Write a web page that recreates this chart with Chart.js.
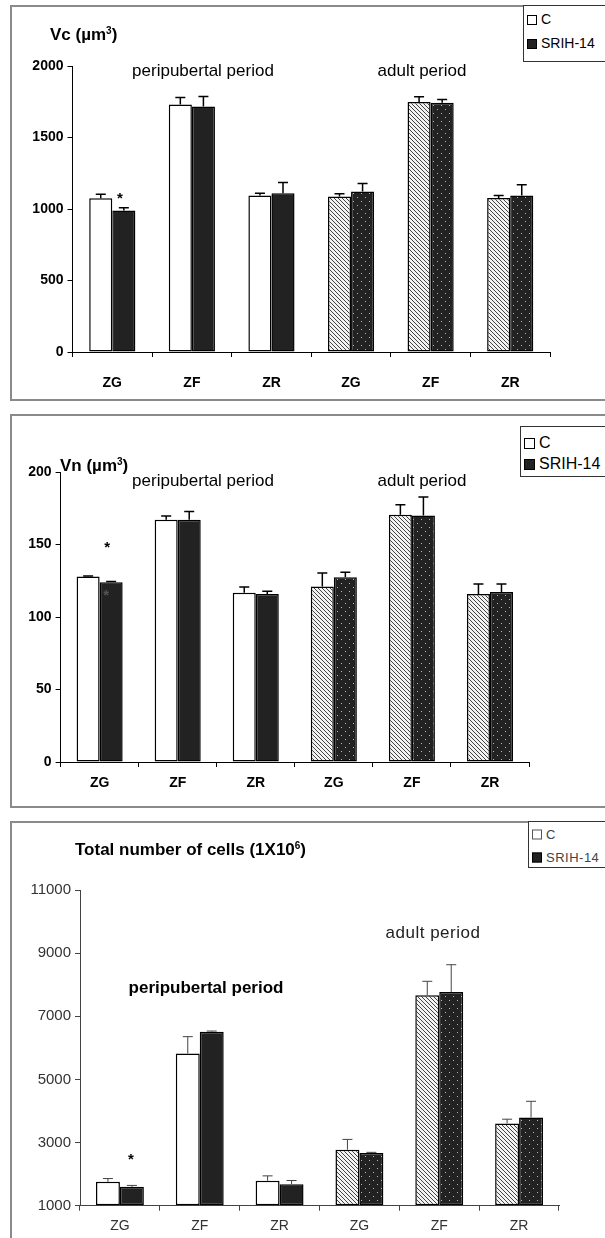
<!DOCTYPE html>
<html lang="en">
<head>
  <meta charset="UTF-8">
  <script src="https://cdn.jsdelivr.net/npm/chart.js"></script>
  <title>Adrenal cortex morphometry</title>
  <style>
    body {
      margin: 0;
      width: 605px;
      height: 1238px;
      position: relative;
      overflow: hidden;
      background: #fff;
      font-family: 'Liberation Sans', Arial, sans-serif;
      color: #000;
    }
    .panel {
      position: absolute;
      left: 10px;
      width: 640px;
      border: 2px solid #8a8a8a;
      box-sizing: border-box;
    }
    canvas {
      position: absolute;
      left: 0;
    }
    .txt {
      position: absolute;
      white-space: nowrap;
      transform: translateY(-50%);
    }
    .mid {
      transform: translate(-50%, -50%);
    }
    .legend {
      position: absolute;
      border: 1px solid #333;
      background: #fff;
      width: 100px;
      box-sizing: border-box;
    }
    .legend div {
      position: absolute;
      white-space: nowrap;
      transform: translateY(-50%);
    }
    .sw {
      display: inline-block;
      width: 8px;
      height: 8px;
      border: 1px solid #000;
      margin-right: 4px;
      vertical-align: -1px;
    }
  </style>
</head>
<body>
  <div class="panel" style="top:5px;height:396px"></div>
  <div class="panel" style="top:414px;height:394px"></div>
  <div class="panel" style="top:821px;height:440px"></div>

  <canvas id="vcChart" width="605" height="405" style="top:0px"></canvas>
  <canvas id="vnChart" width="605" height="400" style="top:410px"></canvas>
  <canvas id="cellChart" width="605" height="423" style="top:815px"></canvas>

  <!-- panel 1 texts -->
  <div class="txt" style="left:50px;top:35px;font-size:17px;font-weight:bold">Vc (&micro;m<sup style="font-size:10px">3</sup>)</div>
  <div class="txt mid" style="left:203px;top:71px;font-size:17px">peripubertal period</div>
  <div class="txt mid" style="left:422px;top:71px;font-size:17px">adult period</div>
  <div class="legend" style="left:523px;top:5px;height:57px;font-size:14px">
    <div style="left:3px;top:13px"><span class="sw" style="background:#fff"></span>C</div>
    <div style="left:3px;top:37px"><span class="sw" style="background:#222"></span>SRIH-14</div>
  </div>

  <!-- panel 2 texts -->
  <div class="txt" style="left:60px;top:466px;font-size:17px;font-weight:bold">Vn (&micro;m<sup style="font-size:10px">3</sup>)</div>
  <div class="txt mid" style="left:203px;top:481px;font-size:17px">peripubertal period</div>
  <div class="txt mid" style="left:422px;top:481px;font-size:17px">adult period</div>
  <div class="legend" style="left:520px;top:426px;height:51px;font-size:16px">
    <div style="left:3px;top:16px"><span class="sw" style="background:#fff;width:9px;height:9px"></span>C</div>
    <div style="left:3px;top:37px"><span class="sw" style="background:#222;width:9px;height:9px"></span>SRIH-14</div>
  </div>

  <!-- panel 3 texts -->
  <div class="txt" style="left:75px;top:850px;font-size:17px;font-weight:bold">Total number of cells (1X10<sup style="font-size:10px">6</sup>)</div>
  <div class="txt mid" style="left:206px;top:988px;font-size:17px;font-weight:bold">peripubertal period</div>
  <div class="txt mid" style="left:433px;top:933px;font-size:17px;letter-spacing:0.5px;color:#222">adult period</div>
  <div class="legend" style="left:528px;top:821px;height:47px;font-size:13px;letter-spacing:0.5px;color:#444">
    <div style="left:3px;top:12px"><span class="sw" style="background:#fff;border-color:#555"></span>C</div>
    <div style="left:3px;top:35px"><span class="sw" style="background:#222"></span>SRIH-14</div>
  </div>

  <script>
    const categories = ['ZG', 'ZF', 'ZR', 'ZG', 'ZF', 'ZR'];

    // Vc (um3)
    const vcControl = [1075, 1730, 1095, 1088, 1748, 1077];
    const vcControlErr = [28, 50, 16, 18, 37, 18];
    const vcSrih = [990, 1717, 1110, 1123, 1743, 1095];
    const vcSrihErr = [18, 70, 75, 56, 23, 74];
    const vcTicks = [0, 500, 1000, 1500, 2000];

    // Vn (um3)
    const vnControl = [128, 167, 116.7, 121, 170.6, 115.8];
    const vnControlErr = [0.3, 2.7, 4, 9.4, 6.9, 6.9];
    const vnSrih = [124, 167, 115.8, 127.5, 170, 117.2];
    const vnSrihErr = [0.5, 5.7, 2, 3.4, 12.8, 5.5];
    const vnTicks = [0, 50, 100, 150, 200];

    // total number of cells (1x10^6)
    const cellControl = [1755, 5820, 1787, 2774, 7667, 3604];
    const cellControlErr = [105, 535, 158, 326, 441, 136];
    const cellSrih = [1600, 6512, 1682, 2669, 7772, 3793];
    const cellSrihErr = [42, 20, 116, 21, 861, 514];
    const cellTicks = [1000, 3000, 5000, 7000, 9000, 11000];

    // significance marks: dataset, category index, value, x shift, colour
    const vcStars = [[1, 0, 1090, -4, '#000']];
    const vnStars = [[1, 0, 150, -4, '#000'], [1, 0, 116.5, -5, '#555']];
    const cellStars = [[1, 0, 2540, -1, '#000']];

    const FONT = "'Liberation Sans', Arial, sans-serif";

    function makePattern(size, draw) {
      const c = document.createElement('canvas');
      c.width = size;
      c.height = size;
      draw(c.getContext('2d'));
      return c.getContext('2d').createPattern(c, 'repeat');
    }

    const hatch = makePattern(4, g => {
      g.fillStyle = '#f2f2f2';
      g.fillRect(0, 0, 4, 4);
      g.fillStyle = '#444';
      for (let i = 0; i < 4; i++) g.fillRect(i, i, 1, 1);
    });

    const dots = makePattern(8, g => {
      g.fillStyle = '#222';
      g.fillRect(0, 0, 8, 8);
      g.fillStyle = '#b8b8b8';
      g.fillRect(1, 1, 1, 1);
      g.fillRect(5, 5, 1, 1);
    });

    const errorBars = {
      id: 'errorBars',
      afterDatasetsDraw(chart, args, opts) {
        const ctx = chart.ctx;
        const y = chart.scales.y;
        ctx.save();
        ctx.strokeStyle = opts.color || '#000';
        ctx.lineWidth = opts.width || 1.5;
        chart.data.datasets.forEach((ds, di) => {
          chart.getDatasetMeta(di).data.forEach((bar, i) => {
            const y0 = y.getPixelForValue(ds.data[i]);
            const y1 = y.getPixelForValue(ds.data[i] + ds.errors[i]);
            ctx.beginPath();
            ctx.moveTo(bar.x, y0);
            ctx.lineTo(bar.x, y1);
            ctx.moveTo(bar.x - 5, y1);
            ctx.lineTo(bar.x + 5, y1);
            ctx.stroke();
          });
        });
        (opts.stars || []).forEach(([di, i, v, dx, col]) => {
          const bar = chart.getDatasetMeta(di).data[i];
          ctx.fillStyle = col;
          ctx.font = 'bold 15px ' + FONT;
          ctx.textAlign = 'center';
          ctx.textBaseline = 'middle';
          ctx.fillText('*', bar.x + dx, y.getPixelForValue(v) + 3);
        });
        ctx.restore();
      }
    };

    function buildChart(id, cfg) {
      const ctx = document.getElementById(id).getContext('2d');
      const datasets = [{
        label: 'C',
        data: cfg.control,
        errors: cfg.controlErr,
        backgroundColor: ['#fff', '#fff', '#fff', hatch, hatch, hatch],
      }, {
        label: 'SRIH-14',
        data: cfg.srih,
        errors: cfg.srihErr,
        backgroundColor: ['#222', '#222', '#222', dots, dots, dots],
      }];
      datasets.forEach(d => {
        d.borderColor = '#000';
        d.borderWidth = 1.5;
        d.borderSkipped = false;
        d.base = cfg.ticks[0];
        d.categoryPercentage = cfg.catPct;
        d.barPercentage = 1.0;
      });

      return new Chart(ctx, {
        type: 'bar',
        data: { labels: categories, datasets: datasets },
        plugins: [errorBars],
        options: {
          responsive: false,
          animation: false,
          devicePixelRatio: 1,
          layout: { padding: { top: cfg.top, right: cfg.right, left: 0, bottom: 0 } },
          plugins: {
            legend: { display: false },
            tooltip: { enabled: false },
            errorBars: { stars: cfg.stars, color: cfg.axisColor, width: cfg.errWidth }
          },
          scales: {
            x: {
              afterFit: s => { s.height = cfg.xHeight; },
              grid: { offset: true, drawOnChartArea: false, tickLength: 5, color: cfg.axisColor, lineWidth: 1 },
              border: { color: cfg.axisColor, width: 1 },
              ticks: {
                color: cfg.textColor,
                padding: cfg.xPad,
                font: { family: FONT, size: 14, weight: cfg.tickWeight }
              }
            },
            y: {
              min: cfg.ticks[0],
              max: cfg.ticks[cfg.ticks.length - 1],
              afterFit: s => { s.width = cfg.left; },
              afterBuildTicks: s => { s.ticks = cfg.ticks.map(v => ({ value: v })); },
              grid: { drawOnChartArea: false, tickLength: 5, color: cfg.axisColor, lineWidth: 1 },
              border: { color: cfg.axisColor, width: 1 },
              ticks: {
                color: cfg.textColor,
                padding: 4,
                callback: v => String(v),
                font: { family: FONT, size: cfg.tickSize, weight: cfg.tickWeight }
              }
            }
          }
        }
      });
    }

    buildChart('vcChart', {
      control: vcControl, controlErr: vcControlErr,
      srih: vcSrih, srihErr: vcSrihErr,
      ticks: vcTicks, stars: vcStars,
      top: 66, right: 55, left: 72.5, xHeight: 53, xPad: 18,
      catPct: 0.58, tickSize: 14, tickWeight: 'bold',
      textColor: '#000', axisColor: '#000', errWidth: 1.5
    });

    buildChart('vnChart', {
      control: vnControl, controlErr: vnControlErr,
      srih: vnSrih, srihErr: vnSrihErr,
      ticks: vnTicks, stars: vnStars,
      top: 62, right: 76, left: 60.6, xHeight: 48, xPad: 8,
      catPct: 0.59, tickSize: 14, tickWeight: 'bold',
      textColor: '#000', axisColor: '#000', errWidth: 1.5
    });

    buildChart('cellChart', {
      control: cellControl, controlErr: cellControlErr,
      srih: cellSrih, srihErr: cellSrihErr,
      ticks: cellTicks, stars: cellStars,
      top: 75, right: 46, left: 80, xHeight: 32.3, xPad: 7,
      catPct: 0.6, tickSize: 15, tickWeight: 'normal',
      textColor: '#333', axisColor: '#444', errWidth: 1
    });
  </script>
</body>
</html>
